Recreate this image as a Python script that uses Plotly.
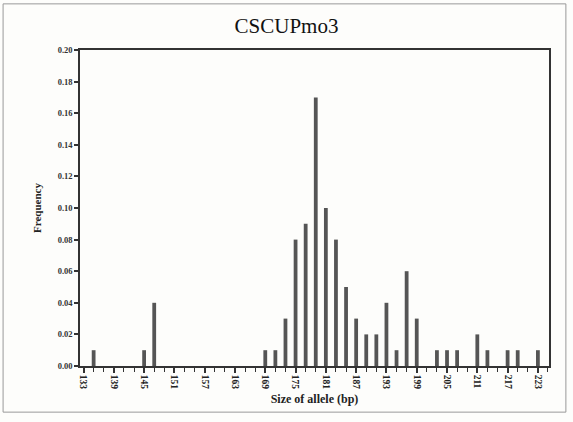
import plotly.graph_objects as go

allele_sizes = [135, 145, 147, 169, 171, 173, 175, 177, 179, 181, 183, 185, 187, 189,
                191, 193, 195, 197, 199, 203, 205, 207, 211, 213, 217, 219, 223]
frequencies = [0.01, 0.01, 0.04, 0.01, 0.01, 0.03, 0.08, 0.09, 0.17, 0.10, 0.08, 0.05, 0.03, 0.02,
               0.02, 0.04, 0.01, 0.06, 0.03, 0.01, 0.01, 0.01, 0.02, 0.01, 0.01, 0.01, 0.01]
x_tick_labels = [133, 139, 145, 151, 157, 163, 169, 175, 181, 187, 193, 199, 205, 211, 217, 223]
y_tick_values = [0.00, 0.02, 0.04, 0.06, 0.08, 0.10, 0.12, 0.14, 0.16, 0.18, 0.20]

fig = go.Figure()
fig.add_trace(go.Bar(x=allele_sizes, y=frequencies, width=0.75,
                     marker=dict(color="#555555", line=dict(width=0))))

serif = "Liberation Serif"
fig.update_layout(
    width=573, height=422,
    margin=dict(l=80, r=24, t=50, b=56, autoexpand=False),
    paper_bgcolor="#fdfdfb", plot_bgcolor="#fdfdfb",
    showlegend=False,
    title=dict(text="CSCUPmo3", x=0.5, xanchor="center", y=1 - 26 / 422, yanchor="middle",
               font=dict(family=serif, size=21, color="#111")),
    font=dict(family=serif, color="#222"),
)
fig.update_xaxes(
    automargin=False,
    range=[132.3, 225.2],
    tickmode="array", tickvals=x_tick_labels,
    ticktext=[f"<b>{v}</b>" for v in x_tick_labels],
    tickangle=90, ticks="outside", ticklen=5, tickwidth=1.5, tickcolor="#333",
    minor=dict(dtick=2, tick0=133, ticks="outside", ticklen=4, tickwidth=1, tickcolor="#333"),
    tickfont=dict(family=serif, size=9.5, color="#222"),
    showgrid=False, zeroline=False,
    showline=True, linecolor="#333", linewidth=1.5, mirror=True,
    title=dict(text="<b>Size of allele (bp)</b>", standoff=6, font=dict(family=serif, size=12, color="#222")),
)
fig.update_yaxes(
    automargin=False,
    range=[0, 0.2],
    tickmode="array", tickvals=y_tick_values,
    ticktext=[f"<b>{v:.2f}</b>" for v in y_tick_values],
    ticks="outside", ticklen=4, tickwidth=1.5, tickcolor="#333",
    tickfont=dict(family=serif, size=8.5, color="#333"),
    showgrid=False, zeroline=False,
    showline=True, linecolor="#333", linewidth=1.5, mirror=True,
    title=dict(text="<b>Frequency</b>", standoff=14, font=dict(family=serif, size=11, color="#222")),
)
fig.add_shape(type="rect", xref="paper", yref="paper", x0=-0.164, x1=1.036, y0=-0.146, y1=1.146,
              line=dict(color="#999", width=1))
fig.write_html("out.html", config={"displayModeBar": False},
               post_script="document.body.style.margin='0';document.body.style.overflow='hidden';")
